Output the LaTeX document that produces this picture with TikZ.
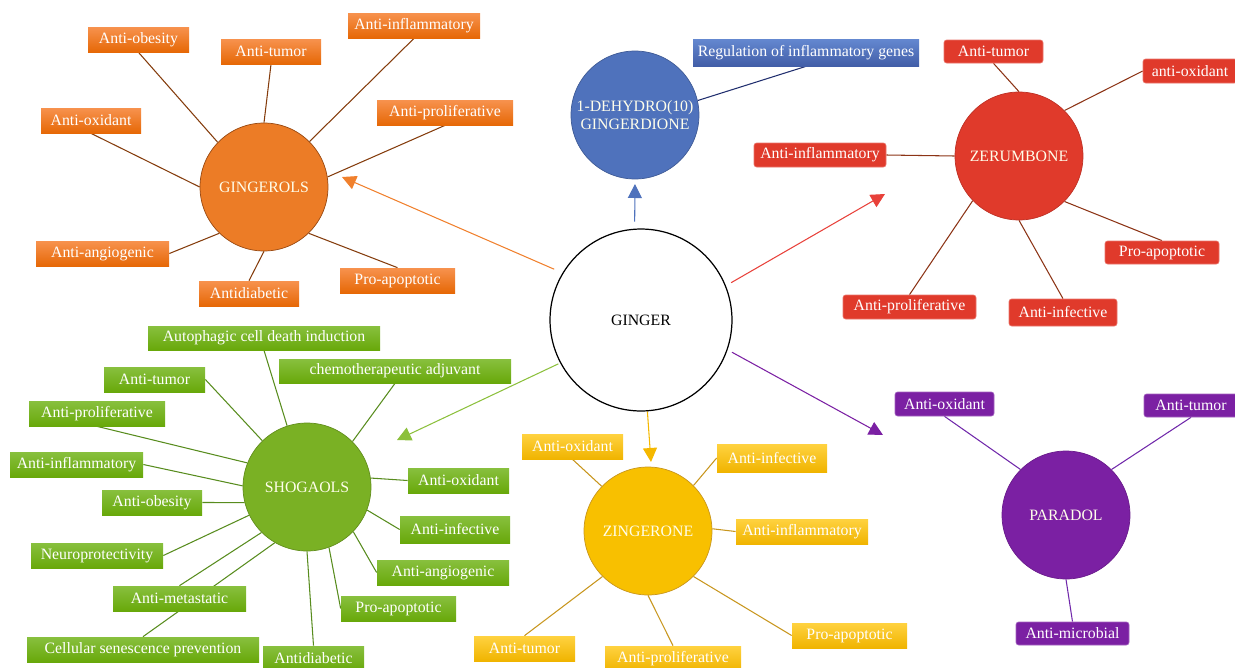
\documentclass[tikz,border=0pt]{standalone}
\usepackage{fontspec}
\setmainfont{Liberation Serif}
\usetikzlibrary{arrows.meta}
\pgfdeclarelayer{bg}
\pgfsetlayers{bg,main}
\definecolor{orC}{RGB}{236,124,38}
\definecolor{orT}{RGB}{247,146,78}
\definecolor{orB}{RGB}{230,104,6}
\definecolor{orL}{RGB}{132,60,12}
\definecolor{orA}{RGB}{240,128,45}
\definecolor{blC}{RGB}{79,114,188}
\definecolor{blT}{RGB}{100,136,208}
\definecolor{blB}{RGB}{66,94,168}
\definecolor{blL}{RGB}{32,46,110}
\definecolor{rdC}{RGB}{224,58,43}
\definecolor{rdL}{RGB}{140,52,22}
\definecolor{rdA}{RGB}{232,65,58}
\definecolor{grC}{RGB}{122,177,36}
\definecolor{grT}{RGB}{136,192,62}
\definecolor{grB}{RGB}{104,168,10}
\definecolor{grL}{RGB}{88,140,30}
\definecolor{grA}{RGB}{140,192,60}
\definecolor{yeC}{RGB}{248,192,0}
\definecolor{yeT}{RGB}{255,210,64}
\definecolor{yeB}{RGB}{240,180,0}
\definecolor{yeL}{RGB}{200,150,30}
\definecolor{yeA}{RGB}{245,184,0}
\definecolor{puC}{RGB}{123,32,163}
\definecolor{puL}{RGB}{112,40,170}
\begin{document}
\begin{tikzpicture}[x=0.02cm,y=-0.02cm,
  txt/.style={font=\fontsize{9}{10.5}\selectfont},
  lab/.style={txt,rectangle,inner sep=1pt,minimum height=0.5cm,text=white},
  bw/.style={minimum width=#1*0.02cm},
  bh/.style={minimum height=#1*0.02cm},
  obox/.style={lab,top color=orT,bottom color=orB},
  bbox/.style={lab,top color=blT,bottom color=blB},
  gbox/.style={lab,top color=grT,bottom color=grB},
  ybox/.style={lab,top color=yeT,bottom color=yeB},
  rbox/.style={lab,fill=rdC,draw=rdC!70!white,line width=0.4pt,rounded corners=1.5pt},
  pbox/.style={lab,fill=puC,draw=puC!70!white,line width=0.4pt,rounded corners=1.5pt},
  hub/.style={txt,circle,inner sep=0pt,minimum size=2.56cm,text=white!92!yellow,align=center},
  ol/.style={orL,line width=0.6pt},
  rl/.style={rdL,line width=0.6pt},
  gl/.style={grL,line width=0.6pt},
  yl/.style={yeL,line width=0.6pt},
  pl/.style={puL,line width=0.6pt},
  bl/.style={blL,line width=0.6pt},
  arr/.style={line width=0.6pt,-{Triangle[length=0.28cm,width=0.28cm]}}
]
\useasboundingbox (0,0) rectangle (1235,667);

% central node
\node[txt,circle,draw=black,line width=0.7pt,fill=white,minimum size=3.64cm,inner sep=0pt] (ginger) at (641,320) {GINGER};

% hub circles
\node[hub,fill=orC,draw=orL!80!orC,line width=0.4pt] (gingerols) at (264,187) {GINGEROLS};
\node[hub,fill=blC,draw=blC!80!black,line width=0.4pt] (dehydro) at (635,115) {1-DEHYDRO(10)\\GINGERDIONE};
\node[hub,fill=rdC,draw=rdC!85!black,line width=0.4pt] (zerumbone) at (1019,156) {ZERUMBONE};
\node[hub,fill=grC,draw=grC!80!black,line width=0.4pt] (shogaols) at (307,487) {SHOGAOLS};
\node[hub,fill=yeC,draw=yeL,line width=0.4pt] (zingerone) at (648,531) {ZINGERONE};
\node[hub,fill=puC,draw=puC!85!black,line width=0.4pt] (paradol) at (1066,515) {PARADOL};

% GINGEROLS labels
\node[obox,bw=101] (go1) at (138.5,39.5) {Anti-obesity};
\node[obox,bw=100] (go2) at (271,51.5) {Anti-tumor};
\node[obox,bw=132] (go3) at (414,25.5) {Anti-inflammatory};
\node[obox,bw=136] (go4) at (445,112.5) {Anti-proliferative};
\node[obox,bw=100] (go5) at (91,120.5) {Anti-oxidant};
\node[obox,bw=133] (go6) at (102.5,253.5) {Anti-angiogenic};
\node[obox,bw=100] (go7) at (249,293.5) {Antidiabetic};
\node[obox,bw=115] (go8) at (397.5,280.5) {Pro-apoptotic};

% ZERUMBONE labels
\node[rbox,bw=99,bh=23] (z1) at (993.5,51.5) {Anti-tumor};
\node[rbox,bw=94,bh=24] (z2) at (1190,71) {anti-oxidant};
\node[rbox,bw=132,bh=24] (z3) at (820,155) {Anti-inflammatory};
\node[rbox,bw=114,bh=23] (z4) at (1162,252.5) {Pro-apoptotic};
\node[rbox,bw=133,bh=24] (z5) at (909.5,307) {Anti-proliferative};
\node[rbox,bw=108,bh=27] (z6) at (1063,312.5) {Anti-infective};

% DEHYDRO label
\node[bbox,bw=226,bh=27] (b1) at (806,52.5) {Regulation of inflammatory genes};

% SHOGAOLS labels
\node[gbox,bw=232,bh=24] (s1) at (264,338) {Autophagic cell death induction};
\node[gbox,bw=232,bh=24] (s2) at (395,371) {chemotherapeutic adjuvant};
\node[gbox,bw=101] (s3) at (154.5,379.5) {Anti-tumor};
\node[gbox,bw=136] (s4) at (97,413.5) {Anti-proliferative};
\node[gbox,bw=133] (s5) at (76.5,464.5) {Anti-inflammatory};
\node[gbox,bw=100] (s6) at (152,502.5) {Anti-obesity};
\node[gbox,bw=132] (s7) at (97,555.5) {Neuroprotectivity};
\node[gbox,bw=133] (s8) at (179.5,598.5) {Anti-metastatic};
\node[gbox,bw=232] (s9) at (143,649.5) {Cellular senescence prevention};
\node[gbox,bw=101] (s10) at (313.5,658.5) {Antidiabetic};
\node[gbox,bw=101] (s11) at (458.5,480.5) {Anti-oxidant};
\node[gbox,bw=110,bh=27] (s12) at (455,529.5) {Anti-infective};
\node[gbox,bw=132] (s13) at (443,572.5) {Anti-angiogenic};
\node[gbox,bw=115] (s14) at (398.5,608.5) {Pro-apoptotic};

% ZINGERONE labels
\node[ybox,bw=101] (y1) at (572.5,446.5) {Anti-oxidant};
\node[ybox,bw=110,bh=28] (y2) at (772,458) {Anti-infective};
\node[ybox,bw=132] (y3) at (802,531.5) {Anti-inflammatory};
\node[ybox,bw=115] (y4) at (849.5,635.5) {Pro-apoptotic};
\node[ybox,bw=101] (y5) at (524.5,648.5) {Anti-tumor};
\node[ybox,bw=136] (y6) at (673,658.5) {Anti-proliferative};

% PARADOL labels
\node[pbox,bw=99,bh=24] (p1) at (944.5,404) {Anti-oxidant};
\node[pbox,bw=94,bh=23] (p2) at (1191,405.5) {Anti-tumor};
\node[pbox,bw=113,bh=23] (p3) at (1072.5,633.5) {Anti-microbial};

% arrow tips
\coordinate (tO) at (342,177);
\coordinate (tB) at (635,184);
\coordinate (tR) at (885,194);
\coordinate (tG) at (397,440);
\coordinate (tY) at (651,462);
\coordinate (tP) at (883,435);

\begin{pgfonlayer}{bg}
% arrows from GINGER
\draw[arr,orA,shorten <=0.18cm] (ginger.149) -- (tO);
\draw[arr,blC,shorten <=0.14cm] (ginger.94) -- (tB);
\draw[arr,rdA,shorten <=0.12cm] (ginger.22) -- (tR);
\draw[arr,grA,shorten <=0.04cm] (ginger.208) -- (tG);
\draw[arr,yeA] (ginger.274) -- (tY);
\draw[arr,puC,shorten <=0.1cm] (ginger.341) -- (tP);

% GINGEROLS connectors
\draw[ol] (go1.south) -- (gingerols.136);
\draw[ol] (go2.south) -- (gingerols.90);
\draw[ol] (go3.south) -- (gingerols.45);
\draw[ol] (go4.south) -- (gingerols.9);
\draw[ol] (go5.south) -- (gingerols.180);
\draw[ol] (go6.east) -- (gingerols.226);
\draw[ol] (go7.north) -- (gingerols.270);
\draw[ol] (go8.north) -- (gingerols.314);

% ZERUMBONE connectors
\draw[rl] (z1.south) -- (zerumbone.90);
\draw[rl] (z2.west) -- (zerumbone.45);
\draw[rl] (z3.east) -- (zerumbone.180);
\draw[rl] (z4.north) -- (zerumbone.315);
\draw[rl] (z5.north) -- (zerumbone.224);
\draw[rl] (z6.north) -- (zerumbone.270);

% DEHYDRO connector
\draw[bl] (b1.south) -- (dehydro.13);

% SHOGAOLS connectors
\draw[gl] (s1.south) -- (shogaols.108);
\draw[gl] (s2.south) -- (shogaols.45);
\draw[gl] (s3.east) -- (shogaols.134);
\draw[gl] (s4.south) -- (shogaols.158);
\draw[gl] (s5.east) -- (shogaols.179);
\draw[gl] (s6.east) -- (shogaols.194);
\draw[gl] (s7.east) -- (shogaols.206);
\draw[gl] (s8.north) -- (shogaols.225);
\draw[gl] (s9.north) -- (shogaols.240);
\draw[gl] (s10.north) -- (shogaols.270);
\draw[gl] (s11.west) -- (shogaols.8);
\draw[gl] (s12.west) -- (shogaols.339);
\draw[gl] (s13.west) -- (shogaols.316);
\draw[gl] (s14.west) -- (shogaols.290);

% ZINGERONE connectors
\draw[yl] (y1.south) -- (zingerone.136);
\draw[yl] (y2.west) -- (zingerone.45);
\draw[yl] (y3.west) -- (zingerone.2);
\draw[yl] (y4.west) -- (zingerone.315);
\draw[yl] (y5.north) -- (zingerone.225);
\draw[yl] (y6.north) -- (zingerone.270);

% PARADOL connectors
\draw[pl] (p1.south) -- (paradol.135);
\draw[pl] (p2.south) -- (paradol.45);
\draw[pl] (p3.north) -- (paradol.270);
\end{pgfonlayer}
\end{tikzpicture}
\end{document}
